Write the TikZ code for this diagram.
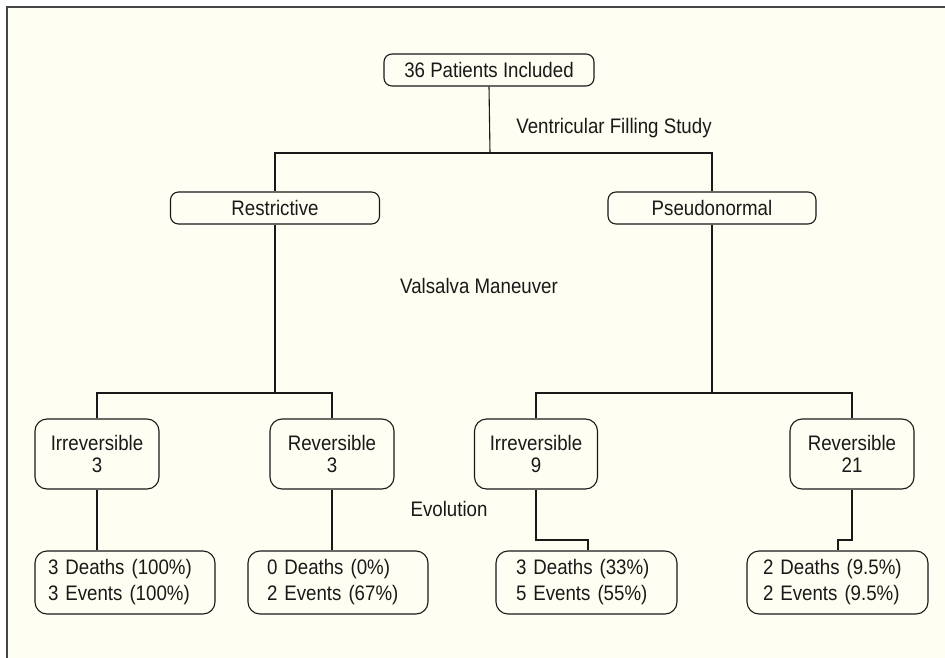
\documentclass[tikz,border=0pt]{standalone}
\usepackage{fontspec}
\setmainfont{Liberation Sans}[FakeStretch=0.89]
\definecolor{bg}{RGB}{255,254,242}
\definecolor{framecol}{RGB}{70,70,70}
\definecolor{ink}{RGB}{25,25,25}
\begin{document}
\begin{tikzpicture}[x=1pt,y=-1pt,
  box/.style={draw=ink, line width=1.1pt, fill=bg, rounded corners=8pt, inner sep=0pt,
    font=\fontsize{21}{22}\selectfont, text=ink, align=center},
  bigbox/.style={box, rounded corners=12pt},
  resbox/.style={box, rounded corners=12pt, align=left, font=\fontsize{21}{26}\selectfont},
  lbl/.style={font=\fontsize{21}{22}\selectfont, text=ink, inner sep=0pt},
  conn/.style={draw=ink, line width=1.1pt}]
\useasboundingbox (0,0) rectangle (945,658);
\fill[white] (0,0) rectangle (945,658);
\fill[bg] (7,7) rectangle (945,658);
\draw[framecol, line width=2pt] (7,658) -- (7,7) -- (945,7);

\node[box, minimum width=210pt, minimum height=32pt] (top) at (489,70) {36 Patients Included};
\node[box, minimum width=209pt, minimum height=32pt] (restr) at (275,208) {Restrictive};
\node[box, minimum width=208pt, minimum height=32pt] (pseudo) at (712,208) {Pseudonormal};

\node[bigbox, minimum width=124pt, minimum height=70pt] (irr3) at (97,454) {Irreversible\\3};
\node[bigbox, minimum width=124pt, minimum height=70pt] (rev3) at (332,454) {Reversible\\3};
\node[bigbox, minimum width=123pt, minimum height=70pt] (irr9) at (536,454) {Irreversible\\9};
\node[bigbox, minimum width=124pt, minimum height=70pt] (rev21) at (852,454) {Reversible\\21};

\node[resbox, minimum width=180pt, minimum height=63pt, text width=154pt] (d1) at (125,582.5) {3 Deaths (100\%)\\3 Events (100\%)};
\node[resbox, minimum width=180pt, minimum height=63pt, text width=142pt] (d2) at (338,582.5) {0 Deaths (0\%)\\2 Events (67\%)};
\node[resbox, minimum width=181pt, minimum height=63pt, text width=141pt] (d3) at (586.5,582.5) {3 Deaths (33\%)\\5 Events (55\%)};
\node[resbox, minimum width=181pt, minimum height=63pt, text width=149pt] (d4) at (837.5,582.5) {2 Deaths (9.5\%)\\2 Events (9.5\%)};

\node[lbl] (vfs) at (614,128) {Ventricular Filling Study};
\node[lbl] (vm) at (479,286) {Valsalva Maneuver};
\node[lbl] (evo) at (449,509) {Evolution};

\coordinate (j1) at (490,153);
\coordinate (j2) at (275,393);
\coordinate (j3) at (712,393);
\coordinate (k3) at (588,540);
\coordinate (k4) at (838,540);

\draw[conn] (top.south) -- (j1);
\draw[conn] (restr.north) |- (j1) -| (pseudo.north);
\draw[conn] (restr.south) -- (j2);
\draw[conn] (irr3.north) |- (j2) -| (rev3.north);
\draw[conn] (pseudo.south) -- (j3);
\draw[conn] (irr9.north) |- (j3) -| (rev21.north);
\draw[conn] (irr3.south) -- (irr3.south |- d1.north);
\draw[conn] (rev3.south) -- (rev3.south |- d2.north);
\draw[conn] (irr9.south) |- (k3) -- (k3 |- d3.north);
\draw[conn] (rev21.south) |- (k4) -- (k4 |- d4.north);
\end{tikzpicture}
\end{document}
